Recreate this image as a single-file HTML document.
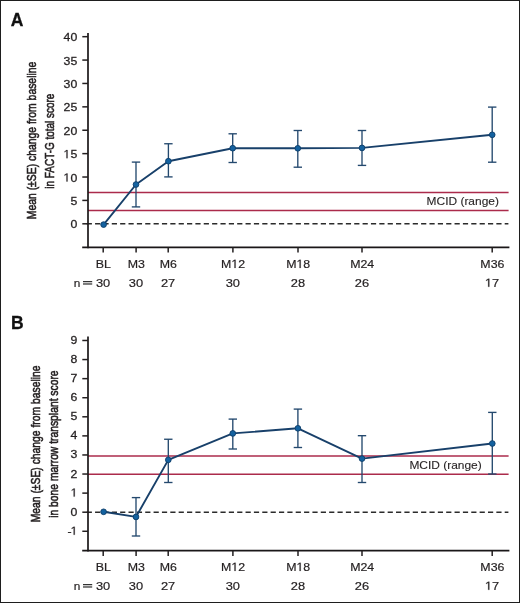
<!DOCTYPE html>
<html><head><meta charset="utf-8"><style>
html,body{margin:0;padding:0;background:#fff;}
#c{position:relative;width:520px;height:603px;box-sizing:border-box;border:1px solid #1e1e1e;overflow:hidden;background:#fff;}
svg{position:absolute;left:-1px;top:-1px;will-change:transform;}
.t{font-family:"Liberation Sans", sans-serif;font-size:11.8px;fill:#231f20;stroke:#231f20;stroke-width:0.2px;}
.yl{font-family:"Liberation Sans", sans-serif;font-size:11.7px;fill:#231f20;stroke:#231f20;stroke-width:0.28px;}
.mc{font-family:"Liberation Sans", sans-serif;font-size:11.6px;fill:#2a2627;stroke:#2a2627;stroke-width:0.12px;}
.yt{font-family:"Liberation Sans", sans-serif;font-size:13.6px;fill:#231f20;stroke:#231f20;stroke-width:0.6px;}
.pl{font-family:"Liberation Sans", sans-serif;font-size:17.5px;font-weight:bold;fill:#111;stroke:#111;stroke-width:0.3px;}
</style></head><body><div id="c">
<svg width="520" height="603" viewBox="0 0 520 603">
<line x1="88" y1="192.4" x2="508.6" y2="192.4" stroke="#ab2b4b" stroke-width="1.5"/>
<line x1="88" y1="210.5" x2="508.6" y2="210.5" stroke="#ab2b4b" stroke-width="1.5"/>
<line x1="86.7" y1="223.8" x2="508.4" y2="223.8" stroke="#2b2b2b" stroke-width="1.6" stroke-dasharray="5.2 3.16"/>
<line x1="88" y1="33" x2="88" y2="248.15" stroke="#1a1718" stroke-width="1.7"/>
<line x1="82.2" y1="247.3" x2="509.4" y2="247.3" stroke="#1a1718" stroke-width="1.7"/>
<line x1="82.3" y1="223.8" x2="88" y2="223.8" stroke="#231f20" stroke-width="1.5"/>
<g transform="translate(77.4,228.3) scale(1.05,1)"><text x="-6.51" y="0" class="yl">0</text></g>
<line x1="82.3" y1="200.41" x2="88" y2="200.41" stroke="#231f20" stroke-width="1.5"/>
<g transform="translate(77.4,204.91) scale(1.05,1)"><text x="-6.51" y="0" class="yl">5</text></g>
<line x1="82.3" y1="177.02" x2="88" y2="177.02" stroke="#231f20" stroke-width="1.5"/>
<g transform="translate(77.4,181.52) scale(1.05,1)"><path transform="translate(-13.36,0) scale(0.00571,-0.00571)" d="M515 0V1237L197 1010V1180L530 1409H696V0Z" class="yl" style="stroke-width:36px"/><text x="-6.51" y="0" class="yl">0</text></g>
<line x1="82.3" y1="153.63" x2="88" y2="153.63" stroke="#231f20" stroke-width="1.5"/>
<g transform="translate(77.4,158.13) scale(1.05,1)"><path transform="translate(-13.36,0) scale(0.00571,-0.00571)" d="M515 0V1237L197 1010V1180L530 1409H696V0Z" class="yl" style="stroke-width:36px"/><text x="-6.51" y="0" class="yl">5</text></g>
<line x1="82.3" y1="130.24" x2="88" y2="130.24" stroke="#231f20" stroke-width="1.5"/>
<g transform="translate(77.4,134.74) scale(1.05,1)"><text x="-13.36" y="0" class="yl">2</text><text x="-6.51" y="0" class="yl">0</text></g>
<line x1="82.3" y1="106.85" x2="88" y2="106.85" stroke="#231f20" stroke-width="1.5"/>
<g transform="translate(77.4,111.35) scale(1.05,1)"><text x="-13.36" y="0" class="yl">2</text><text x="-6.51" y="0" class="yl">5</text></g>
<line x1="82.3" y1="83.46" x2="88" y2="83.46" stroke="#231f20" stroke-width="1.5"/>
<g transform="translate(77.4,87.96) scale(1.05,1)"><text x="-13.36" y="0" class="yl">3</text><text x="-6.51" y="0" class="yl">0</text></g>
<line x1="82.3" y1="60.07" x2="88" y2="60.07" stroke="#231f20" stroke-width="1.5"/>
<g transform="translate(77.4,64.57) scale(1.05,1)"><text x="-13.36" y="0" class="yl">3</text><text x="-6.51" y="0" class="yl">5</text></g>
<line x1="82.3" y1="36.68" x2="88" y2="36.68" stroke="#231f20" stroke-width="1.5"/>
<g transform="translate(77.4,41.18) scale(1.05,1)"><text x="-13.36" y="0" class="yl">4</text><text x="-6.51" y="0" class="yl">0</text></g>
<line x1="103.2" y1="247.3" x2="103.2" y2="252.5" stroke="#231f20" stroke-width="1.5"/>
<g transform="translate(103.4,267.9) scale(1.05,1)"><text x="-7.22" y="0" class="t">B</text><text x="0.65" y="0" class="t">L</text></g>
<g transform="translate(103.1,286.8) scale(1.09,1)"><text x="-6.56" y="0" class="t">3</text><text x="0" y="0" class="t">0</text></g>
<line x1="136.1" y1="247.3" x2="136.1" y2="252.5" stroke="#231f20" stroke-width="1.5"/>
<g transform="translate(136.3,267.9) scale(1.05,1)"><text x="-8.2" y="0" class="t">M</text><text x="1.63" y="0" class="t">3</text></g>
<g transform="translate(136,286.8) scale(1.09,1)"><text x="-6.56" y="0" class="t">3</text><text x="0" y="0" class="t">0</text></g>
<line x1="168.2" y1="247.3" x2="168.2" y2="252.5" stroke="#231f20" stroke-width="1.5"/>
<g transform="translate(168.4,267.9) scale(1.05,1)"><text x="-8.2" y="0" class="t">M</text><text x="1.63" y="0" class="t">6</text></g>
<g transform="translate(168.1,286.8) scale(1.09,1)"><text x="-6.56" y="0" class="t">2</text><text x="0" y="0" class="t">7</text></g>
<line x1="232.9" y1="247.3" x2="232.9" y2="252.5" stroke="#231f20" stroke-width="1.5"/>
<g transform="translate(233.1,267.9) scale(1.05,1)"><text x="-11.48" y="0" class="t">M</text><path transform="translate(-1.65,0) scale(0.00576,-0.00576)" d="M515 0V1237L197 1010V1180L530 1409H696V0Z" class="t" style="stroke-width:36px"/><text x="4.91" y="0" class="t">2</text></g>
<g transform="translate(232.8,286.8) scale(1.09,1)"><text x="-6.56" y="0" class="t">3</text><text x="0" y="0" class="t">0</text></g>
<line x1="298" y1="247.3" x2="298" y2="252.5" stroke="#231f20" stroke-width="1.5"/>
<g transform="translate(298.2,267.9) scale(1.05,1)"><text x="-11.48" y="0" class="t">M</text><path transform="translate(-1.65,0) scale(0.00576,-0.00576)" d="M515 0V1237L197 1010V1180L530 1409H696V0Z" class="t" style="stroke-width:36px"/><text x="4.91" y="0" class="t">8</text></g>
<g transform="translate(297.9,286.8) scale(1.09,1)"><text x="-6.56" y="0" class="t">2</text><text x="0" y="0" class="t">8</text></g>
<line x1="362" y1="247.3" x2="362" y2="252.5" stroke="#231f20" stroke-width="1.5"/>
<g transform="translate(362.2,267.9) scale(1.05,1)"><text x="-11.48" y="0" class="t">M</text><text x="-1.65" y="0" class="t">2</text><text x="4.91" y="0" class="t">4</text></g>
<g transform="translate(361.9,286.8) scale(1.09,1)"><text x="-6.56" y="0" class="t">2</text><text x="0" y="0" class="t">6</text></g>
<line x1="492.2" y1="247.3" x2="492.2" y2="252.5" stroke="#231f20" stroke-width="1.5"/>
<g transform="translate(492.4,267.9) scale(1.05,1)"><text x="-11.48" y="0" class="t">M</text><text x="-1.65" y="0" class="t">3</text><text x="4.91" y="0" class="t">6</text></g>
<g transform="translate(492.1,286.8) scale(1.09,1)"><path transform="translate(-6.56,0) scale(0.00576,-0.00576)" d="M515 0V1237L197 1010V1180L530 1409H696V0Z" class="t" style="stroke-width:36px"/><text x="0" y="0" class="t">7</text></g>
<text transform="translate(73.7,286.8) scale(1,1)" text-anchor="start" class="t">n</text>
<rect x="83" y="281" width="9.2" height="1.25" fill="#333"/>
<rect x="83" y="283.35" width="9.2" height="1.25" fill="#333"/>
<text transform="translate(426.6,204.5) scale(1.03,1)" text-anchor="start" class="mc">MCID (range)</text>
<line x1="136" y1="162.1" x2="136" y2="206.9" stroke="#24496e" stroke-width="1.35"/>
<line x1="131.8" y1="162.1" x2="140.2" y2="162.1" stroke="#24496e" stroke-width="1.35"/>
<line x1="131.8" y1="206.9" x2="140.2" y2="206.9" stroke="#24496e" stroke-width="1.35"/>
<line x1="168.4" y1="143.75" x2="168.4" y2="176.9" stroke="#24496e" stroke-width="1.35"/>
<line x1="164.2" y1="143.75" x2="172.6" y2="143.75" stroke="#24496e" stroke-width="1.35"/>
<line x1="164.2" y1="176.9" x2="172.6" y2="176.9" stroke="#24496e" stroke-width="1.35"/>
<line x1="232.7" y1="133.8" x2="232.7" y2="162.5" stroke="#24496e" stroke-width="1.35"/>
<line x1="228.5" y1="133.8" x2="236.9" y2="133.8" stroke="#24496e" stroke-width="1.35"/>
<line x1="228.5" y1="162.5" x2="236.9" y2="162.5" stroke="#24496e" stroke-width="1.35"/>
<line x1="297.8" y1="130.5" x2="297.8" y2="167.2" stroke="#24496e" stroke-width="1.35"/>
<line x1="293.6" y1="130.5" x2="302" y2="130.5" stroke="#24496e" stroke-width="1.35"/>
<line x1="293.6" y1="167.2" x2="302" y2="167.2" stroke="#24496e" stroke-width="1.35"/>
<line x1="362" y1="130.5" x2="362" y2="165.4" stroke="#24496e" stroke-width="1.35"/>
<line x1="357.8" y1="130.5" x2="366.2" y2="130.5" stroke="#24496e" stroke-width="1.35"/>
<line x1="357.8" y1="165.4" x2="366.2" y2="165.4" stroke="#24496e" stroke-width="1.35"/>
<line x1="492.2" y1="107.1" x2="492.2" y2="162.2" stroke="#24496e" stroke-width="1.35"/>
<line x1="488" y1="107.1" x2="496.4" y2="107.1" stroke="#24496e" stroke-width="1.35"/>
<line x1="488" y1="162.2" x2="496.4" y2="162.2" stroke="#24496e" stroke-width="1.35"/>
<path d="M103.6,224.6 L136,184.5 L168.4,161.2 L232.7,148.2 L297.8,148.3 L362,147.9 L492.2,134.8" fill="none" stroke="#18406a" stroke-width="1.9" stroke-linejoin="round"/>
<circle cx="103.6" cy="224.6" r="2.85" fill="#1462a0" stroke="#0e3e6a" stroke-width="0.9"/>
<circle cx="136" cy="184.5" r="2.85" fill="#1462a0" stroke="#0e3e6a" stroke-width="0.9"/>
<circle cx="168.4" cy="161.2" r="2.85" fill="#1462a0" stroke="#0e3e6a" stroke-width="0.9"/>
<circle cx="232.7" cy="148.2" r="2.85" fill="#1462a0" stroke="#0e3e6a" stroke-width="0.9"/>
<circle cx="297.8" cy="148.3" r="2.85" fill="#1462a0" stroke="#0e3e6a" stroke-width="0.9"/>
<circle cx="362" cy="147.9" r="2.85" fill="#1462a0" stroke="#0e3e6a" stroke-width="0.9"/>
<circle cx="492.2" cy="134.8" r="2.85" fill="#1462a0" stroke="#0e3e6a" stroke-width="0.9"/>
<text transform="translate(35.8,219.2) rotate(-90)" class="yt" textLength="157.5" lengthAdjust="spacingAndGlyphs">Mean (±SE) change from baseline</text>
<text transform="translate(54,188.7) rotate(-90)" class="yt" textLength="95" lengthAdjust="spacingAndGlyphs">in FACT-G total score</text>
<text x="10.8" y="25.5" class="pl">A</text>
<line x1="88" y1="455.9" x2="508.6" y2="455.9" stroke="#ab2b4b" stroke-width="1.5"/>
<line x1="88" y1="474.2" x2="508.6" y2="474.2" stroke="#ab2b4b" stroke-width="1.5"/>
<line x1="86.7" y1="512.2" x2="508.4" y2="512.2" stroke="#2b2b2b" stroke-width="1.6" stroke-dasharray="5.2 3.16"/>
<line x1="88" y1="336.5" x2="88" y2="551.55" stroke="#1a1718" stroke-width="1.7"/>
<line x1="82.2" y1="550.7" x2="509.4" y2="550.7" stroke="#1a1718" stroke-width="1.7"/>
<line x1="82.3" y1="531.28" x2="88" y2="531.28" stroke="#231f20" stroke-width="1.5"/>
<g transform="translate(77.4,534.78) scale(1.05,1)"><text x="-9.43" y="0" class="yl">-</text><path transform="translate(-6.51,0) scale(0.00571,-0.00571)" d="M515 0V1237L197 1010V1180L530 1409H696V0Z" class="yl" style="stroke-width:36px"/></g>
<line x1="82.3" y1="512.2" x2="88" y2="512.2" stroke="#231f20" stroke-width="1.5"/>
<g transform="translate(77.4,515.7) scale(1.05,1)"><text x="-6.51" y="0" class="yl">0</text></g>
<line x1="82.3" y1="493.12" x2="88" y2="493.12" stroke="#231f20" stroke-width="1.5"/>
<g transform="translate(77.4,496.62) scale(1.05,1)"><path transform="translate(-6.51,0) scale(0.00571,-0.00571)" d="M515 0V1237L197 1010V1180L530 1409H696V0Z" class="yl" style="stroke-width:36px"/></g>
<line x1="82.3" y1="474.04" x2="88" y2="474.04" stroke="#231f20" stroke-width="1.5"/>
<g transform="translate(77.4,477.54) scale(1.05,1)"><text x="-6.51" y="0" class="yl">2</text></g>
<line x1="82.3" y1="454.96" x2="88" y2="454.96" stroke="#231f20" stroke-width="1.5"/>
<g transform="translate(77.4,458.46) scale(1.05,1)"><text x="-6.51" y="0" class="yl">3</text></g>
<line x1="82.3" y1="435.88" x2="88" y2="435.88" stroke="#231f20" stroke-width="1.5"/>
<g transform="translate(77.4,439.38) scale(1.05,1)"><text x="-6.51" y="0" class="yl">4</text></g>
<line x1="82.3" y1="416.8" x2="88" y2="416.8" stroke="#231f20" stroke-width="1.5"/>
<g transform="translate(77.4,420.3) scale(1.05,1)"><text x="-6.51" y="0" class="yl">5</text></g>
<line x1="82.3" y1="397.72" x2="88" y2="397.72" stroke="#231f20" stroke-width="1.5"/>
<g transform="translate(77.4,401.22) scale(1.05,1)"><text x="-6.51" y="0" class="yl">6</text></g>
<line x1="82.3" y1="378.64" x2="88" y2="378.64" stroke="#231f20" stroke-width="1.5"/>
<g transform="translate(77.4,382.14) scale(1.05,1)"><text x="-6.51" y="0" class="yl">7</text></g>
<line x1="82.3" y1="359.56" x2="88" y2="359.56" stroke="#231f20" stroke-width="1.5"/>
<g transform="translate(77.4,363.06) scale(1.05,1)"><text x="-6.51" y="0" class="yl">8</text></g>
<line x1="82.3" y1="340.48" x2="88" y2="340.48" stroke="#231f20" stroke-width="1.5"/>
<g transform="translate(77.4,343.98) scale(1.05,1)"><text x="-6.51" y="0" class="yl">9</text></g>
<line x1="103.2" y1="550.7" x2="103.2" y2="555.9" stroke="#231f20" stroke-width="1.5"/>
<g transform="translate(103.4,570.9) scale(1.05,1)"><text x="-7.22" y="0" class="t">B</text><text x="0.65" y="0" class="t">L</text></g>
<g transform="translate(103.1,589.8) scale(1.09,1)"><text x="-6.56" y="0" class="t">3</text><text x="0" y="0" class="t">0</text></g>
<line x1="136.1" y1="550.7" x2="136.1" y2="555.9" stroke="#231f20" stroke-width="1.5"/>
<g transform="translate(136.3,570.9) scale(1.05,1)"><text x="-8.2" y="0" class="t">M</text><text x="1.63" y="0" class="t">3</text></g>
<g transform="translate(136,589.8) scale(1.09,1)"><text x="-6.56" y="0" class="t">3</text><text x="0" y="0" class="t">0</text></g>
<line x1="168.2" y1="550.7" x2="168.2" y2="555.9" stroke="#231f20" stroke-width="1.5"/>
<g transform="translate(168.4,570.9) scale(1.05,1)"><text x="-8.2" y="0" class="t">M</text><text x="1.63" y="0" class="t">6</text></g>
<g transform="translate(168.1,589.8) scale(1.09,1)"><text x="-6.56" y="0" class="t">2</text><text x="0" y="0" class="t">7</text></g>
<line x1="232.9" y1="550.7" x2="232.9" y2="555.9" stroke="#231f20" stroke-width="1.5"/>
<g transform="translate(233.1,570.9) scale(1.05,1)"><text x="-11.48" y="0" class="t">M</text><path transform="translate(-1.65,0) scale(0.00576,-0.00576)" d="M515 0V1237L197 1010V1180L530 1409H696V0Z" class="t" style="stroke-width:36px"/><text x="4.91" y="0" class="t">2</text></g>
<g transform="translate(232.8,589.8) scale(1.09,1)"><text x="-6.56" y="0" class="t">3</text><text x="0" y="0" class="t">0</text></g>
<line x1="298" y1="550.7" x2="298" y2="555.9" stroke="#231f20" stroke-width="1.5"/>
<g transform="translate(298.2,570.9) scale(1.05,1)"><text x="-11.48" y="0" class="t">M</text><path transform="translate(-1.65,0) scale(0.00576,-0.00576)" d="M515 0V1237L197 1010V1180L530 1409H696V0Z" class="t" style="stroke-width:36px"/><text x="4.91" y="0" class="t">8</text></g>
<g transform="translate(297.9,589.8) scale(1.09,1)"><text x="-6.56" y="0" class="t">2</text><text x="0" y="0" class="t">8</text></g>
<line x1="362" y1="550.7" x2="362" y2="555.9" stroke="#231f20" stroke-width="1.5"/>
<g transform="translate(362.2,570.9) scale(1.05,1)"><text x="-11.48" y="0" class="t">M</text><text x="-1.65" y="0" class="t">2</text><text x="4.91" y="0" class="t">4</text></g>
<g transform="translate(361.9,589.8) scale(1.09,1)"><text x="-6.56" y="0" class="t">2</text><text x="0" y="0" class="t">6</text></g>
<line x1="492.2" y1="550.7" x2="492.2" y2="555.9" stroke="#231f20" stroke-width="1.5"/>
<g transform="translate(492.4,570.9) scale(1.05,1)"><text x="-11.48" y="0" class="t">M</text><text x="-1.65" y="0" class="t">3</text><text x="4.91" y="0" class="t">6</text></g>
<g transform="translate(492.1,589.8) scale(1.09,1)"><path transform="translate(-6.56,0) scale(0.00576,-0.00576)" d="M515 0V1237L197 1010V1180L530 1409H696V0Z" class="t" style="stroke-width:36px"/><text x="0" y="0" class="t">7</text></g>
<text transform="translate(73.7,589.8) scale(1,1)" text-anchor="start" class="t">n</text>
<rect x="83" y="584" width="9.2" height="1.25" fill="#333"/>
<rect x="83" y="586.35" width="9.2" height="1.25" fill="#333"/>
<text transform="translate(409.4,468.9) scale(1.03,1)" text-anchor="start" class="mc">MCID (range)</text>
<line x1="136" y1="497.6" x2="136" y2="536" stroke="#24496e" stroke-width="1.35"/>
<line x1="131.8" y1="497.6" x2="140.2" y2="497.6" stroke="#24496e" stroke-width="1.35"/>
<line x1="131.8" y1="536" x2="140.2" y2="536" stroke="#24496e" stroke-width="1.35"/>
<line x1="168.3" y1="439.25" x2="168.3" y2="482.5" stroke="#24496e" stroke-width="1.35"/>
<line x1="164.1" y1="439.25" x2="172.5" y2="439.25" stroke="#24496e" stroke-width="1.35"/>
<line x1="164.1" y1="482.5" x2="172.5" y2="482.5" stroke="#24496e" stroke-width="1.35"/>
<line x1="232.8" y1="419.1" x2="232.8" y2="449" stroke="#24496e" stroke-width="1.35"/>
<line x1="228.6" y1="419.1" x2="237" y2="419.1" stroke="#24496e" stroke-width="1.35"/>
<line x1="228.6" y1="449" x2="237" y2="449" stroke="#24496e" stroke-width="1.35"/>
<line x1="297.9" y1="409.1" x2="297.9" y2="447.5" stroke="#24496e" stroke-width="1.35"/>
<line x1="293.7" y1="409.1" x2="302.1" y2="409.1" stroke="#24496e" stroke-width="1.35"/>
<line x1="293.7" y1="447.5" x2="302.1" y2="447.5" stroke="#24496e" stroke-width="1.35"/>
<line x1="362" y1="435.7" x2="362" y2="482.5" stroke="#24496e" stroke-width="1.35"/>
<line x1="357.8" y1="435.7" x2="366.2" y2="435.7" stroke="#24496e" stroke-width="1.35"/>
<line x1="357.8" y1="482.5" x2="366.2" y2="482.5" stroke="#24496e" stroke-width="1.35"/>
<line x1="492.3" y1="412.4" x2="492.3" y2="474" stroke="#24496e" stroke-width="1.35"/>
<line x1="488.1" y1="412.4" x2="496.5" y2="412.4" stroke="#24496e" stroke-width="1.35"/>
<line x1="488.1" y1="474" x2="496.5" y2="474" stroke="#24496e" stroke-width="1.35"/>
<path d="M103.6,511.8 L136,516.9 L168.3,459.85 L232.8,433.4 L297.9,428.3 L362,458.6 L492.3,443.5" fill="none" stroke="#18406a" stroke-width="1.9" stroke-linejoin="round"/>
<circle cx="103.6" cy="511.8" r="2.85" fill="#1462a0" stroke="#0e3e6a" stroke-width="0.9"/>
<circle cx="136" cy="516.9" r="2.85" fill="#1462a0" stroke="#0e3e6a" stroke-width="0.9"/>
<circle cx="168.3" cy="459.85" r="2.85" fill="#1462a0" stroke="#0e3e6a" stroke-width="0.9"/>
<circle cx="232.8" cy="433.4" r="2.85" fill="#1462a0" stroke="#0e3e6a" stroke-width="0.9"/>
<circle cx="297.9" cy="428.3" r="2.85" fill="#1462a0" stroke="#0e3e6a" stroke-width="0.9"/>
<circle cx="362" cy="458.6" r="2.85" fill="#1462a0" stroke="#0e3e6a" stroke-width="0.9"/>
<circle cx="492.3" cy="443.5" r="2.85" fill="#1462a0" stroke="#0e3e6a" stroke-width="0.9"/>
<text transform="translate(39.7,522.3) rotate(-90)" class="yt" textLength="156.8" lengthAdjust="spacingAndGlyphs">Mean (±SE) change from baseline</text>
<text transform="translate(57.9,517.8) rotate(-90)" class="yt" textLength="147.4" lengthAdjust="spacingAndGlyphs">in bone marrow transplant score</text>
<text x="10.9" y="328.75" class="pl">B</text>
</svg></div></body></html>
